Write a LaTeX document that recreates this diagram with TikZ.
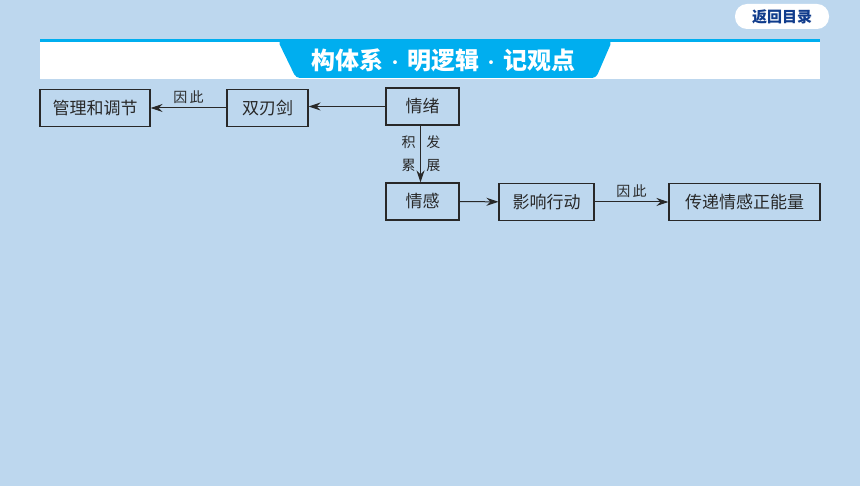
\documentclass[tikz,border=0pt]{standalone}
\usepackage{fontspec}
\setmainfont{Noto Sans CJK SC}
\usetikzlibrary{arrows.meta}
\definecolor{bgblue}{RGB}{189,215,238}
\definecolor{tabblue}{RGB}{0,174,239}
\definecolor{navy}{RGB}{16,60,140}
\definecolor{ink}{RGB}{40,40,40}
\newcommand{\middot}{\hspace{3pt}{\fontsize{18}{18}\selectfont\mdseries ·}\hspace{3pt}}
\tikzset{
  box/.style={draw=ink, line width=1.1pt, inner sep=0pt, minimum height=37pt, font=\fontsize{17}{20}\selectfont, text=ink},
  link/.style={draw=ink, line width=1pt, -{Stealth[length=12pt,width=8pt]}},
  note/.style={font=\fontsize{14}{23}\selectfont, text=ink, align=center}
}
\begin{document}
\begin{tikzpicture}[x=1pt,y=-1pt]
		\fill[bgblue] (0,0) rectangle (860,486);
		\useasboundingbox (0,0) rectangle (860,486);
		% header
		\fill[white, rounded corners=12pt] (735,4) rectangle (829,29);
		\node (back) at (782,16.5) {\fontsize{15}{15}\selectfont\bfseries\color{navy}返回目录};
		\fill[white] (40,39) rectangle (820,79);
		\fill[tabblue] (40,39) rectangle (820,42);
		\fill[tabblue, rounded corners=4pt] (278,41) -- (296,78) -- (596,78) -- (612,41) -- cycle;
		\fill[tabblue] (270,39) rectangle (620,42);
		\node (title) at (443,60) {\fontsize{24}{24}\selectfont\bfseries\color{white}构体系\middot 明逻辑\middot 记观点};
		% boxes
		\node[box, minimum width=110pt] (guanli) at (95,108) {管理和调节};
		\node[box, minimum width=81pt] (shuangren) at (267.5,108) {双刃剑};
		\node[box, minimum width=73pt] (qingxu) at (422.5,106.5) {情绪};
		\node[box, minimum width=73pt] (qinggan) at (422.5,201.5) {情感};
		\node[box, minimum width=95pt] (yingxiang) at (546.5,202) {影响行动};
		\node[box, minimum width=151pt] (chuandi) at (744.5,202) {传递情感正能量};
		% arrows
		\draw[link] (qingxu.west) -- (shuangren.east |- qingxu.west);
		\draw[link] (shuangren) -- (guanli) node [midway, above=1pt, note] {因\,此};
		\draw[link] ([xshift=-2pt]qingxu.south) -- ([xshift=-2pt]qinggan.north)
			node [midway, left=1pt, note] {积\\累}
			node [midway, right=2pt, note] {发\\展};
		\draw[link] (qinggan) -- (yingxiang);
		\draw[link] (yingxiang) -- (chuandi) node [midway, above=1pt, note] {因\,此};
	\end{tikzpicture}
\end{document}
